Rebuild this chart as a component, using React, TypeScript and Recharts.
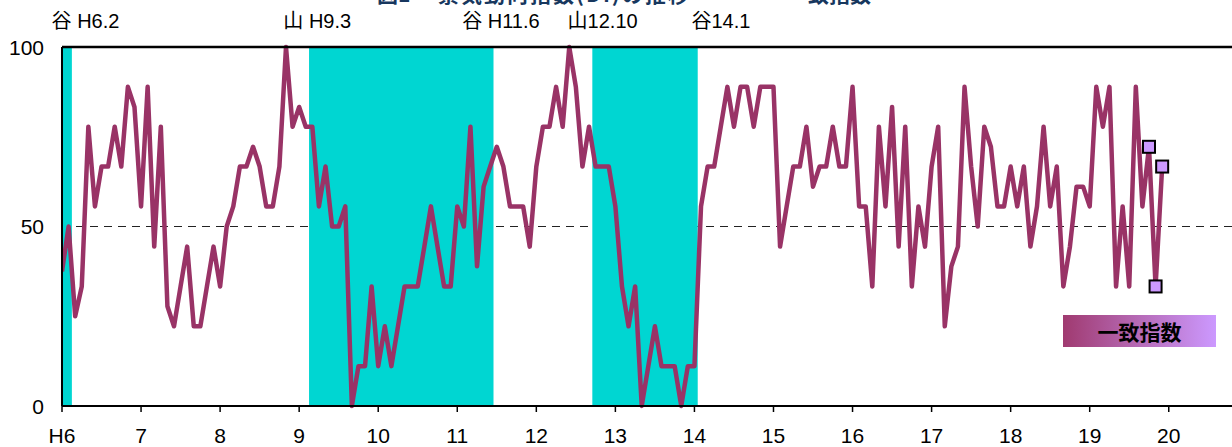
import React from 'react';
import { LineChart, Line, XAxis, YAxis, ReferenceArea, ReferenceLine, Legend } from 'recharts';

// Coincident DI, monthly from H6.1 (index 0) to H19.12 (index 167)
const coincidentDI: number[] = [
  37.5, 50, 25, 33.3, 77.8, 55.6, 66.7, 66.7, 77.8, 66.7, 88.9, 83.3,
  55.6, 88.9, 44.4, 77.8, 27.8, 22.2, 33.3, 44.4, 22.2, 22.2, 33.3, 44.4,
  33.3, 50, 55.6, 66.7, 66.7, 72.2, 66.7, 55.6, 55.6, 66.7, 100, 77.8,
  83.3, 77.8, 77.8, 55.6, 66.7, 50, 50, 55.6, 0, 11.1, 11.1, 33.3,
  11.1, 22.2, 11.1, 22.2, 33.3, 33.3, 33.3, 44.4, 55.6, 44.4, 33.3, 33.3,
  55.6, 50, 77.8, 38.9, 61.1, 66.7, 72.2, 66.7, 55.6, 55.6, 55.6, 44.4,
  66.7, 77.8, 77.8, 88.9, 77.8, 100, 88.9, 66.7, 77.8, 66.7, 66.7, 66.7,
  55.6, 33.3, 22.2, 33.3, 0, 11.1, 22.2, 11.1, 11.1, 11.1, 0, 11.1,
  11.1, 55.6, 66.7, 66.7, 77.8, 88.9, 77.8, 88.9, 88.9, 77.8, 88.9, 88.9,
  88.9, 44.4, 55.6, 66.7, 66.7, 77.8, 61.1, 66.7, 66.7, 77.8, 66.7, 66.7,
  88.9, 55.6, 55.6, 33.3, 77.8, 55.6, 83.3, 44.4, 77.8, 33.3, 55.6, 44.4,
  66.7, 77.8, 22.2, 38.9, 44.4, 88.9, 66.7, 50, 77.8, 72.2, 55.6, 55.6,
  66.7, 55.6, 66.7, 44.4, 55.6, 77.8, 55.6, 66.7, 33.3, 44.4, 61.1, 61.1,
  55.6, 88.9, 77.8, 88.9, 33.3, 55.6, 33.3, 88.9, 55.6, 72.2, 33.3, 66.7,
];

// the last months are preliminary values (drawn with square markers)
const preliminaryFrom = 165;

const yearTickMonths: number[] = [0, 12, 24, 36, 48, 60, 72, 84, 96, 108, 120, 132, 144, 156, 168];
const yearTickLabels: string[] = ['H6', '7', '8', '9', '10', '11', '12', '13', '14', '15', '16', '17', '18', '19', '20'];

const yTicks: number[] = [0, 50, 100];

// recession periods (peak month -> trough month), month index from H6.1
const recessionStart: number[] = [-1, 38, 81];
const recessionEnd: number[] = [1, 65, 96];

const turningMonths: number[] = [1, 38, 65, 81, 96];
const turningLabels: string[] = ['谷 H6.2', '山 H9.3', '谷 H11.6', '山12.10', '谷14.1'];
const turningLabelShift: number[] = [-17, -29, -28, -28, -3];

const titleMain = '図1';
const titleSub = '景気動向指数(DI)の推移';
const titleRight = '一致指数';

const data = coincidentDI.map((v, i) => ({ m: i, di: v }));

const LATIN = '"Liberation Sans", Arial, "Noto Sans CJK JP", sans-serif';
const CJK = '"Noto Sans CJK JP", "Liberation Sans", sans-serif';

const renderDot = (props: any) => {
  const { cx, cy, index } = props;
  if (index < preliminaryFrom || cx == null) return <g key={`d${index}`} />;
  return (
    <rect key={`d${index}`} x={cx - 6} y={cy - 6} width={12} height={12}
      fill="#CC99FF" stroke="#000" strokeWidth={2} />
  );
};

const XTick = (props: any) => {
  const { x, payload } = props;
  const idx = yearTickMonths.indexOf(payload.value);
  return (
    <text x={x} y={443} textAnchor="middle" fontSize={21} fontFamily={LATIN} fill="#000">
      {yearTickLabels[idx]}
    </text>
  );
};

const YTick = (props: any) => {
  const { y, payload } = props;
  return (
    <text x={44} y={y + 7.5} textAnchor="end" fontSize={21} fontFamily={LATIN} fill="#000">
      {payload.value}
    </text>
  );
};

const LegendBox = (props: any) => {
  const name = props.payload && props.payload[0] ? props.payload[0].value : '';
  return (
    <div style={{
      width: 153, height: 32,
      background: 'linear-gradient(90deg, #A03A70 0%, #B466B0 45%, #CC99FF 100%)',
      display: 'flex', alignItems: 'center', justifyContent: 'center',
      fontFamily: CJK, fontWeight: 'bold', fontSize: 21, color: '#000', lineHeight: '32px',
    }}>{name}</div>
  );
};

export default function App() {
  return (
    <div style={{ position: 'absolute', left: 0, top: 0, width: 1232, height: 447, overflow: 'hidden', background: '#fff' }}>
      <LineChart width={1232} height={447} data={data} margin={{ top: 47, right: 0, bottom: 0, left: 0 }}>
        <XAxis dataKey="m" type="number" domain={[0, 177.6]} ticks={yearTickMonths} allowDataOverflow
          height={41} axisLine={{ stroke: '#000', strokeWidth: 2 }}
          tickLine={{ stroke: '#000', strokeWidth: 1.5 }} tickSize={6} tick={<XTick />} interval={0} />
        <YAxis type="number" domain={[0, 100]} ticks={yTicks} width={62}
          axisLine={{ stroke: '#000', strokeWidth: 2 }} tickLine={false} tick={<YTick />} interval={0} />
        <ReferenceLine y={50} stroke="#222" strokeWidth={1} strokeDasharray="8 6" zIndex={50} />
        {recessionStart.map((s, i) => (
          <ReferenceArea key={`r${i}`} x1={Math.max(0, s - 0.5)} x2={recessionEnd[i] + 0.5}
            y1={0} y2={100} fill="#00D6D2" fillOpacity={1} stroke="none" zIndex={60} />
        ))}
        <ReferenceLine y={100} stroke="#000" strokeWidth={2.5} zIndex={450} />
        {turningMonths.map((mo, i) => (
          <ReferenceLine key={`t${i}`} x={mo} stroke="none"
            label={{
              content: (p: any) => (
                <text x={p.viewBox.x + turningLabelShift[i]} y={28} fontSize={20} fontFamily={LATIN} fill="#000">
                  {turningLabels[i]}
                </text>
              ),
            }} />
        ))}
        <Line type="linear" dataKey="di" name="一致指数" stroke="#993366" strokeWidth={4.5}
          strokeLinejoin="round" dot={renderDot} activeDot={false} isAnimationActive={false} />
        <Legend layout="horizontal" verticalAlign="middle" align="center"
          wrapperStyle={{ left: 1063, top: 315, width: 153, height: 32 }} content={<LegendBox />} />
        <text x={377} y={1.5} fontSize={21} fontWeight="bold" fontFamily={CJK} fill="#17375E">{titleMain}</text>
        <text x={438} y={1.5} fontSize={21} fontWeight="bold" fontFamily={CJK} fill="#17375E" letterSpacing={2}>{titleSub}</text>
        <text x={787} y={1.5} fontSize={21} fontWeight="bold" fontFamily={CJK} fill="#17375E">{titleRight}</text>
      </LineChart>
    </div>
  );
}
